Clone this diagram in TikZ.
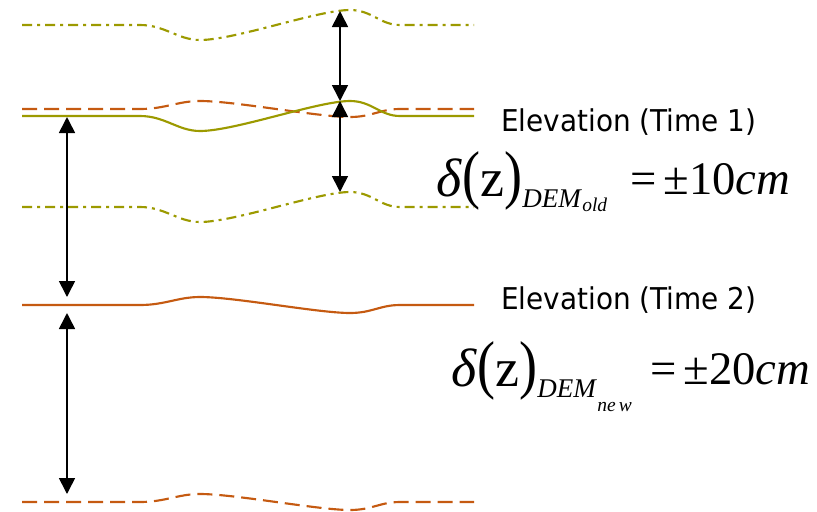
\documentclass[tikz,border=0pt]{standalone}
\usepackage{fontspec}
\usepackage{graphicx}
\setmainfont{Liberation Serif}
\newfontfamily\lblfont[FakeStretch=0.93]{DejaVu Sans}
\usetikzlibrary{arrows.meta}
\definecolor{terrOlive}{RGB}{156,154,0}
\definecolor{terrOrange}{RGB}{197,90,17}
\newcommand\terrainline[3]{%
  \draw[#1] (22,#2) -- (140,#2)
    .. controls (165,#2) and (178,{#2+(#3)}) .. (200,{#2+(#3)})
    .. controls (235,{#2+(#3)}) and (318,{#2-(#3)}) .. (350,{#2-(#3)})
    .. controls (372,{#2-(#3)}) and (380,#2) .. (400,#2) -- (474,#2);}
\newcommand\bigparen[1]{\scalebox{1}[1.2]{#1}}
\tikzset{
  dimarrow/.style={{Triangle[width=12pt,length=12pt]}-{Triangle[width=12pt,length=12pt]}, line width=1.2pt, black},
  oliveSolid/.style={draw=terrOlive, line width=1.6pt},
  oliveDashDot/.style={draw=terrOlive, line width=1.6pt, dash pattern=on 7.5pt off 3.75pt on 2.25pt off 3.75pt},
  orangeSolid/.style={draw=terrOrange, line width=1.6pt},
  orangeDashed/.style={draw=terrOrange, line width=1.6pt, dash pattern=on 11.25pt off 5.25pt},
  lbl/.style={inner sep=0pt, anchor=base west, font=\lblfont\fontsize{22.5pt}{24pt}\selectfont},
  mathbig/.style={inner sep=0pt, anchor=base west, font=\fontsize{40.5pt}{42pt}\selectfont},
  mathval/.style={inner sep=0pt, anchor=base west, font=\fontsize{35pt}{38pt}\selectfont},
  mathsub/.style={inner sep=0pt, anchor=base west, font=\itshape\fontsize{20.25pt}{22pt}\selectfont},
  mathsubsub/.style={inner sep=0pt, anchor=base west, font=\itshape\fontsize{14.6pt}{16pt}\selectfont},
}
\begin{document}
\begin{tikzpicture}[x=0.75pt, y=-0.75pt]
\useasboundingbox (0,0) rectangle (817,511);
% terrain lines
\terrainline{oliveDashDot}{25}{15}
\terrainline{orangeDashed}{109}{-8}
\terrainline{oliveSolid}{116}{15}
\terrainline{oliveDashDot}{207}{15}
\terrainline{orangeSolid}{305}{-8}
\terrainline{orangeDashed}{502}{-8}
% arrow end points
\coordinate (r1) at (340,11);
\coordinate (r2) at (340,101);
\coordinate (r3) at (340,192);
\coordinate (l1) at (67,117);
\coordinate (l2) at (67,297);
\coordinate (l3) at (67,313);
\coordinate (l4) at (67,494);
\draw[dimarrow] (r1) -- (r2);
\draw[dimarrow] (r2) -- (r3);
\draw[dimarrow] (l1) -- (l2);
\draw[dimarrow] (l3) -- (l4);
% labels
\node[lbl] (t1) at (501,131) {Elevation (Time 1)};
\node[lbl] (t2) at (501,309) {Elevation (Time 2)};
% accuracy 1
\node[mathbig] (d1) at (436,196) {\textit{δ}\bigparen{(}z\bigparen{)}};
\node[mathsub] (s1) at (522,207) {DEM};
\node[mathsubsub] (ss1) at (582,211) {old};
\node[mathval] (v1) at (630,194) {=\hspace{0.15em}±10\textit{cm}};
% accuracy 2
\node[mathbig] (d2) at (451,386) {\textit{δ}\bigparen{(}z\bigparen{)}};
\node[mathsub] (s2) at (537,397) {DEM};
\node[mathsubsub] (ss2) at (597,411) {ne\,w};
\node[mathval] (v2) at (650,384) {=\hspace{0.15em}±20\textit{cm}};
\end{tikzpicture}
\end{document}
